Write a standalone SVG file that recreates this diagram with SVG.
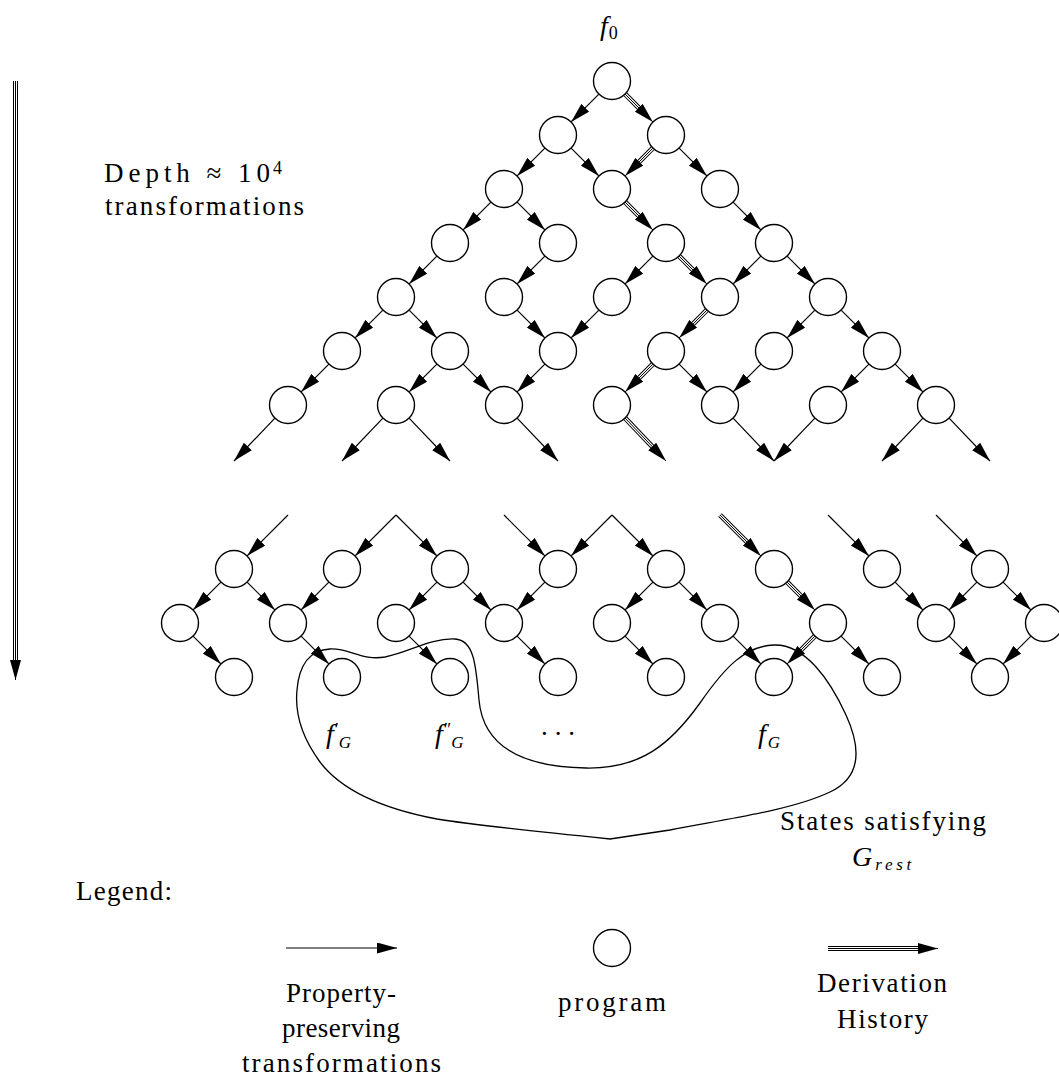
<svg xmlns="http://www.w3.org/2000/svg" width="1059" height="1080" viewBox="0 0 1059 1080">
<style>
  .n { fill:#fff; stroke:#000; stroke-width:1.4; }
  .e { fill:none; stroke:#000; stroke-width:1.2; marker-end:url(#ah); }
  .tk { fill:none; stroke:#000; stroke-width:5; }
  .tw { fill:none; stroke:#fff; stroke-width:3; }
  .tn { fill:none; stroke:#000; stroke-width:1; marker-end:url(#ah); }
  .c { fill:none; stroke:#000; stroke-width:1.3; }
  text { font-family:"Liberation Serif","DejaVu Serif",serif; font-size:27px; fill:#000; }
  .m { font-style:italic; font-size:28px; }
  .s { font-style:italic; font-size:17px; }
  .d { font-style:normal; font-size:18px; }
</style>
<defs>
  <marker id="ah" markerUnits="userSpaceOnUse" markerWidth="20" markerHeight="11" refX="20" refY="5.5" orient="auto">
    <path d="M0,0 L20,5.5 L0,11 Z" fill="#000"/>
  </marker>
</defs>
<rect width="1059" height="1080" fill="#fff"/>

<!-- depth indicator -->
<g id="depth">
  <path class="tk" d="M15.5,81 L15.5,661"/>
  <path class="tw" d="M15.5,81 L15.5,661"/>
  <path class="tn" d="M15.5,81 L15.5,680"/>
  <text x="104" y="182" textLength="166" lengthAdjust="spacing">Depth ≈ 10</text>
  <text class="d" x="273" y="174">4</text>
  <text x="105" y="215" textLength="199" lengthAdjust="spacing">transformations</text>
</g>

<g id="connectors">
  <!-- upper tree -->
  <path class="e" d="M598.9,94.1 L571.1,121.9"/>
  <path class="tk" d="M625.1,94.1 L639.5,108.5"/><path class="tw" d="M625.1,94.1 L639.5,108.5"/><path class="tn" d="M625.1,94.1 L652.9,121.9"/>
  <path class="e" d="M544.9,148.1 L517.1,175.9"/>
  <path class="e" d="M571.1,148.1 L598.9,175.9"/>
  <path class="tk" d="M652.9,148.1 L638.5,162.5"/><path class="tw" d="M652.9,148.1 L638.5,162.5"/><path class="tn" d="M652.9,148.1 L625.1,175.9"/>
  <path class="e" d="M679.1,148.1 L706.9,175.9"/>
  <path class="e" d="M490.9,202.1 L463.1,229.9"/>
  <path class="e" d="M517.1,202.1 L544.9,229.9"/>
  <path class="tk" d="M625.1,202.1 L639.5,216.5"/><path class="tw" d="M625.1,202.1 L639.5,216.5"/><path class="tn" d="M625.1,202.1 L652.9,229.9"/>
  <path class="e" d="M733.1,202.1 L760.9,229.9"/>
  <path class="e" d="M436.9,256.1 L409.1,283.9"/>
  <path class="e" d="M544.9,256.1 L517.1,283.9"/>
  <path class="e" d="M652.9,256.1 L625.1,283.9"/>
  <path class="tk" d="M679.1,256.1 L693.5,270.5"/><path class="tw" d="M679.1,256.1 L693.5,270.5"/><path class="tn" d="M679.1,256.1 L706.9,283.9"/>
  <path class="e" d="M760.9,256.1 L733.1,283.9"/>
  <path class="e" d="M787.1,256.1 L814.9,283.9"/>
  <path class="e" d="M382.9,310.1 L355.1,337.9"/>
  <path class="e" d="M409.1,310.1 L436.9,337.9"/>
  <path class="e" d="M517.1,310.1 L544.9,337.9"/>
  <path class="e" d="M598.9,310.1 L571.1,337.9"/>
  <path class="tk" d="M706.9,310.1 L692.5,324.5"/><path class="tw" d="M706.9,310.1 L692.5,324.5"/><path class="tn" d="M706.9,310.1 L679.1,337.9"/>
  <path class="e" d="M814.9,310.1 L787.1,337.9"/>
  <path class="e" d="M841.1,310.1 L868.9,337.9"/>
  <path class="e" d="M328.9,364.1 L301.1,391.9"/>
  <path class="e" d="M436.9,364.1 L409.1,391.9"/>
  <path class="e" d="M463.1,364.1 L490.9,391.9"/>
  <path class="e" d="M544.9,364.1 L517.1,391.9"/>
  <path class="tk" d="M652.9,364.1 L638.5,378.5"/><path class="tw" d="M652.9,364.1 L638.5,378.5"/><path class="tn" d="M652.9,364.1 L625.1,391.9"/>
  <path class="e" d="M679.1,364.1 L706.9,391.9"/>
  <path class="e" d="M760.9,364.1 L733.1,391.9"/>
  <path class="e" d="M868.9,364.1 L841.1,391.9"/>
  <path class="e" d="M895.1,364.1 L922.9,391.9"/>
  <!-- open ends below the upper tree -->
  <path class="e" d="M274.9,418.1 L234,461"/>
  <path class="e" d="M382.9,418.1 L342,461"/>
  <path class="e" d="M409.1,418.1 L450,461"/>
  <path class="e" d="M517.1,418.1 L558,461"/>
  <path class="tk" d="M625.1,418.1 L652.9,447.2"/><path class="tw" d="M625.1,418.1 L652.9,447.2"/><path class="tn" d="M625.1,418.1 L666,461"/>
  <path class="e" d="M733.1,418.1 L774,461"/>
  <path class="e" d="M814.9,418.1 L774,461"/>
  <path class="e" d="M922.9,418.1 L882,461"/>
  <path class="e" d="M949.1,418.1 L990,461"/>
  <!-- incoming ends of the lower band -->
  <path class="e" d="M288,515 L247.1,555.9"/>
  <path class="e" d="M396,515 L355.1,555.9"/>
  <path class="e" d="M396,515 L436.9,555.9"/>
  <path class="e" d="M504,515 L544.9,555.9"/>
  <path class="e" d="M612,515 L571.1,555.9"/>
  <path class="e" d="M612,515 L652.9,555.9"/>
  <path class="tk" d="M720,515 L747.5,542.5"/><path class="tw" d="M720,515 L747.5,542.5"/><path class="tn" d="M720,515 L760.9,555.9"/>
  <path class="e" d="M828,515 L868.9,555.9"/>
  <path class="e" d="M936,515 L976.9,555.9"/>
  <!-- lower band -->
  <path class="e" d="M220.9,582.1 L193.1,609.9"/>
  <path class="e" d="M247.1,582.1 L274.9,609.9"/>
  <path class="e" d="M328.9,582.1 L301.1,609.9"/>
  <path class="e" d="M436.9,582.1 L409.1,609.9"/>
  <path class="e" d="M463.1,582.1 L490.9,609.9"/>
  <path class="e" d="M544.9,582.1 L517.1,609.9"/>
  <path class="e" d="M652.9,582.1 L625.1,609.9"/>
  <path class="e" d="M679.1,582.1 L706.9,609.9"/>
  <path class="tk" d="M787.1,582.1 L801.5,596.5"/><path class="tw" d="M787.1,582.1 L801.5,596.5"/><path class="tn" d="M787.1,582.1 L814.9,609.9"/>
  <path class="e" d="M895.1,582.1 L922.9,609.9"/>
  <path class="e" d="M976.9,582.1 L949.1,609.9"/>
  <path class="e" d="M1003.1,582.1 L1030.9,609.9"/>
  <path class="e" d="M193.1,636.1 L220.9,663.9"/>
  <path class="e" d="M301.1,636.1 L328.9,663.9"/>
  <path class="e" d="M409.1,636.1 L436.9,663.9"/>
  <path class="e" d="M517.1,636.1 L544.9,663.9"/>
  <path class="e" d="M625.1,636.1 L652.9,663.9"/>
  <path class="e" d="M733.1,636.1 L760.9,663.9"/>
  <path class="tk" d="M814.9,636.1 L800.5,650.5"/><path class="tw" d="M814.9,636.1 L800.5,650.5"/><path class="tn" d="M814.9,636.1 L787.1,663.9"/>
  <path class="e" d="M841.1,636.1 L868.9,663.9"/>
  <path class="e" d="M949.1,636.1 L976.9,663.9"/>
  <path class="e" d="M1030.9,636.1 L1003.1,663.9"/>
</g>

<!-- goal region outline -->
<g id="goal-region">
  <path class="c" d="M610,839 C560,834 480,826 437,819 C395,811 345,795 320,762 C300,735 295,710 297,690 C299,665 310,650 330,649 C350,648 362,661 385,657 C410,652 430,638 455,639 C474,640 476,665 479,700 C483,745 520,767 586,768 C640,769 670,745 700,703 C725,667 745,646 774,645 C805,644 830,680 846,715 C862,750 860,778 830,792 C790,811 720,820 670,830 Z"/>
  <text x="780" y="830" textLength="206" lengthAdjust="spacing">States satisfying</text>
  <text class="m" x="852" y="866">G<tspan class="s" dx="3" dy="4" textLength="36" lengthAdjust="spacing">rest</tspan></text>
</g>

<!-- upper tree nodes -->
<g id="n612_81"><circle class="n" cx="612" cy="81" r="18.5"/>
  <text class="m" x="600" y="35">f<tspan class="d" dx="1" dy="4">0</tspan></text></g>
<g id="n558_135"><circle class="n" cx="558" cy="135" r="18.5"/></g>
<g id="n666_135"><circle class="n" cx="666" cy="135" r="18.5"/></g>
<g id="n504_189"><circle class="n" cx="504" cy="189" r="18.5"/></g>
<g id="n612_189"><circle class="n" cx="612" cy="189" r="18.5"/></g>
<g id="n720_189"><circle class="n" cx="720" cy="189" r="18.5"/></g>
<g id="n450_243"><circle class="n" cx="450" cy="243" r="18.5"/></g>
<g id="n558_243"><circle class="n" cx="558" cy="243" r="18.5"/></g>
<g id="n666_243"><circle class="n" cx="666" cy="243" r="18.5"/></g>
<g id="n774_243"><circle class="n" cx="774" cy="243" r="18.5"/></g>
<g id="n396_297"><circle class="n" cx="396" cy="297" r="18.5"/></g>
<g id="n504_297"><circle class="n" cx="504" cy="297" r="18.5"/></g>
<g id="n612_297"><circle class="n" cx="612" cy="297" r="18.5"/></g>
<g id="n720_297"><circle class="n" cx="720" cy="297" r="18.5"/></g>
<g id="n828_297"><circle class="n" cx="828" cy="297" r="18.5"/></g>
<g id="n342_351"><circle class="n" cx="342" cy="351" r="18.5"/></g>
<g id="n450_351"><circle class="n" cx="450" cy="351" r="18.5"/></g>
<g id="n558_351"><circle class="n" cx="558" cy="351" r="18.5"/></g>
<g id="n666_351"><circle class="n" cx="666" cy="351" r="18.5"/></g>
<g id="n774_351"><circle class="n" cx="774" cy="351" r="18.5"/></g>
<g id="n882_351"><circle class="n" cx="882" cy="351" r="18.5"/></g>
<g id="n288_405"><circle class="n" cx="288" cy="405" r="18.5"/></g>
<g id="n396_405"><circle class="n" cx="396" cy="405" r="18.5"/></g>
<g id="n504_405"><circle class="n" cx="504" cy="405" r="18.5"/></g>
<g id="n612_405"><circle class="n" cx="612" cy="405" r="18.5"/></g>
<g id="n720_405"><circle class="n" cx="720" cy="405" r="18.5"/></g>
<g id="n828_405"><circle class="n" cx="828" cy="405" r="18.5"/></g>
<g id="n936_405"><circle class="n" cx="936" cy="405" r="18.5"/></g>

<!-- lower band nodes -->
<g id="n234_569"><circle class="n" cx="234" cy="569" r="18.5"/></g>
<g id="n342_569"><circle class="n" cx="342" cy="569" r="18.5"/></g>
<g id="n450_569"><circle class="n" cx="450" cy="569" r="18.5"/></g>
<g id="n558_569"><circle class="n" cx="558" cy="569" r="18.5"/></g>
<g id="n666_569"><circle class="n" cx="666" cy="569" r="18.5"/></g>
<g id="n774_569"><circle class="n" cx="774" cy="569" r="18.5"/></g>
<g id="n882_569"><circle class="n" cx="882" cy="569" r="18.5"/></g>
<g id="n990_569"><circle class="n" cx="990" cy="569" r="18.5"/></g>
<g id="n180_623"><circle class="n" cx="180" cy="623" r="18.5"/></g>
<g id="n288_623"><circle class="n" cx="288" cy="623" r="18.5"/></g>
<g id="n396_623"><circle class="n" cx="396" cy="623" r="18.5"/></g>
<g id="n504_623"><circle class="n" cx="504" cy="623" r="18.5"/></g>
<g id="n612_623"><circle class="n" cx="612" cy="623" r="18.5"/></g>
<g id="n720_623"><circle class="n" cx="720" cy="623" r="18.5"/></g>
<g id="n828_623"><circle class="n" cx="828" cy="623" r="18.5"/></g>
<g id="n936_623"><circle class="n" cx="936" cy="623" r="18.5"/></g>
<g id="n1044_623"><circle class="n" cx="1044" cy="623" r="18.5"/></g>
<g id="n234_677"><circle class="n" cx="234" cy="677" r="18.5"/></g>
<g id="n342_677"><circle class="n" cx="342" cy="677" r="18.5"/>
  <text class="m" x="326" y="743">f<tspan class="d" dx="1" dy="-7">′</tspan><tspan class="s" dx="0" dy="12">G</tspan></text></g>
<g id="n450_677"><circle class="n" cx="450" cy="677" r="18.5"/>
  <text class="m" x="435" y="743">f<tspan class="d" dx="1" dy="-7">″</tspan><tspan class="s" dx="0" dy="12">G</tspan></text></g>
<g id="n558_677"><circle class="n" cx="558" cy="677" r="18.5"/></g>
<g id="n666_677"><circle class="n" cx="666" cy="677" r="18.5"/></g>
<g id="n774_677"><circle class="n" cx="774" cy="677" r="18.5"/>
  <text class="m" x="758" y="743">f<tspan class="s" dx="2" dy="5">G</tspan></text></g>
<g id="n882_677"><circle class="n" cx="882" cy="677" r="18.5"/></g>
<g id="n990_677"><circle class="n" cx="990" cy="677" r="18.5"/></g>
<text x="541" y="735" textLength="34" lengthAdjust="spacing">...</text>

<!-- legend -->
<g id="legend">
  <text x="76" y="900" textLength="96" lengthAdjust="spacing">Legend:</text>
  <path class="e" d="M286,948 L397,948"/>
  <text x="286" y="1002" textLength="110" lengthAdjust="spacing">Property-</text>
  <text x="282" y="1037" textLength="118" lengthAdjust="spacing">preserving</text>
  <text x="242" y="1072" textLength="199" lengthAdjust="spacing">transformations</text>
  <circle class="n" cx="612" cy="948" r="18.5"/>
  <text x="558" y="1011" textLength="108" lengthAdjust="spacing">program</text>
  <path class="tk" d="M828,948.5 L919,948.5"/><path class="tw" d="M828,948.5 L919,948.5"/><path class="tn" d="M828,948.5 L938,948.5"/>
  <text x="817" y="992" textLength="130" lengthAdjust="spacing">Derivation</text>
  <text x="837" y="1028" textLength="91" lengthAdjust="spacing">History</text>
</g>
</svg>
